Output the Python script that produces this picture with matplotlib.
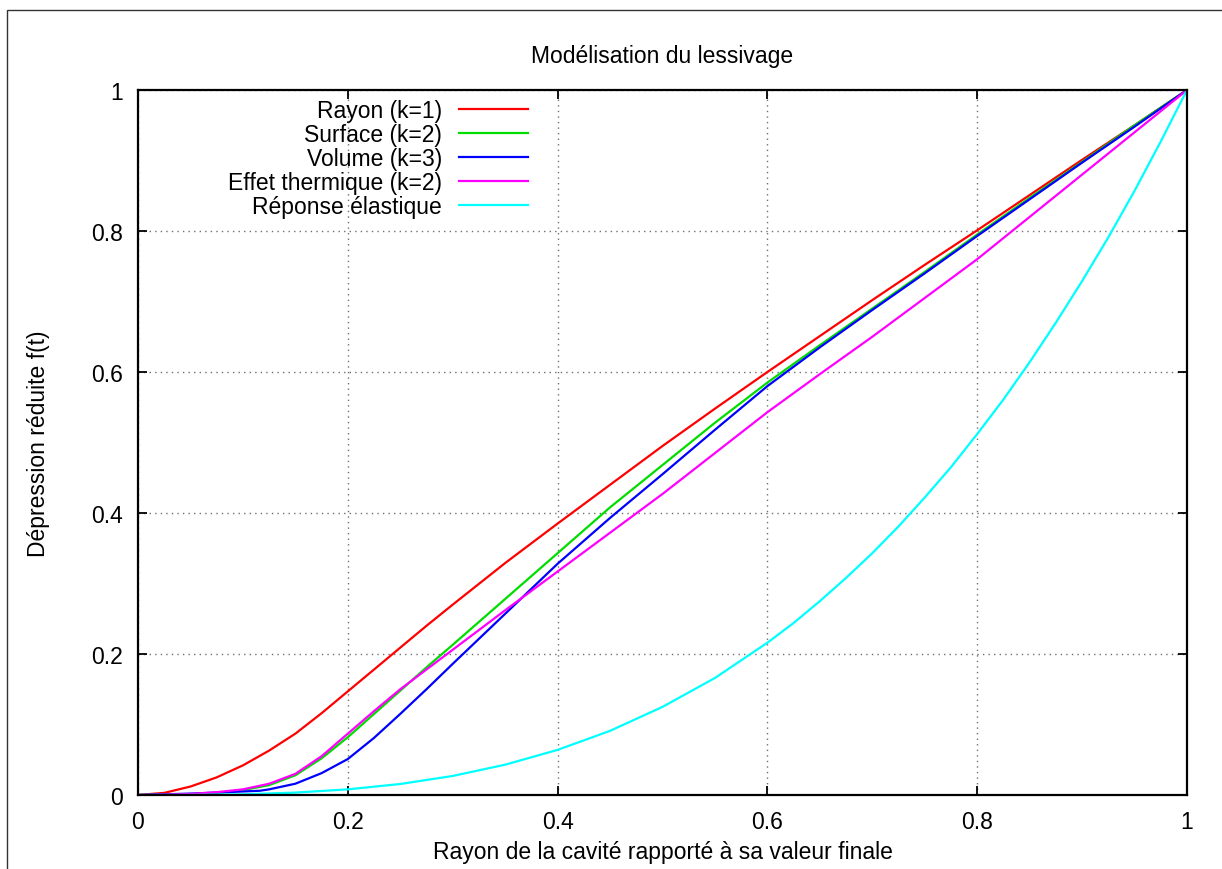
import matplotlib
matplotlib.use("Agg")
import matplotlib.pyplot as plt
from matplotlib.patches import Rectangle

plt.rcParams['font.family'] = ['Liberation Sans', 'DejaVu Sans']

# rayon réduit (axe x), pas fin au début des courbes
r_fin = [0.0, 0.025, 0.05, 0.075, 0.1, 0.125, 0.15, 0.175, 0.2, 0.225, 0.25, 0.275, 0.3,
         0.35, 0.4, 0.45, 0.5, 0.55, 0.6, 0.65, 0.7, 0.75, 0.8, 0.85, 0.9, 0.95, 1.0]

rayon = [0.0, 0.003, 0.012, 0.025, 0.042, 0.063, 0.087, 0.116, 0.147, 0.178, 0.209, 0.24, 0.27,
         0.329, 0.385, 0.44, 0.495, 0.548, 0.6, 0.651, 0.702, 0.752, 0.801, 0.851, 0.901, 0.95, 1.0]
surface = [0.0, 0.0005, 0.001, 0.003, 0.007, 0.014, 0.028, 0.052, 0.082, 0.115, 0.148, 0.181, 0.213,
           0.278, 0.343, 0.408, 0.468, 0.528, 0.585, 0.638, 0.69, 0.742, 0.795, 0.847, 0.898, 0.95, 1.0]
thermique = [0.0, 0.0005, 0.0015, 0.004, 0.008, 0.016, 0.03, 0.055, 0.087, 0.119, 0.15, 0.178, 0.206,
             0.262, 0.317, 0.372, 0.427, 0.485, 0.543, 0.597, 0.65, 0.705, 0.76, 0.82, 0.88, 0.94, 1.0]

# la courbe volume a un coude vers r = 0.116
r_vol = [0.0, 0.025, 0.05, 0.075, 0.1, 0.116, 0.125, 0.15, 0.175, 0.2, 0.225, 0.25, 0.275, 0.3,
         0.35, 0.4, 0.45, 0.5, 0.55, 0.6, 0.65, 0.7, 0.75, 0.8, 0.85, 0.9, 0.95, 1.0]
volume = [0.0, 0.001, 0.002, 0.0035, 0.005, 0.006, 0.008, 0.016, 0.031, 0.051, 0.081, 0.115, 0.15, 0.186,
          0.257, 0.328, 0.393, 0.455, 0.518, 0.58, 0.635, 0.688, 0.74, 0.793, 0.845, 0.897, 0.948, 1.0]

# réponse élastique, pas fin à la fin
r_ela = [0.0, 0.05, 0.1, 0.15, 0.2, 0.25, 0.3, 0.35, 0.4, 0.45, 0.5, 0.55, 0.6,
         0.625, 0.65, 0.675, 0.7, 0.725, 0.75, 0.775, 0.8, 0.825, 0.85, 0.875, 0.9, 0.925, 0.95,
         0.975, 1.0]
elastique = [0.0, 0.0001, 0.001, 0.0034, 0.008, 0.0156, 0.027, 0.043, 0.064, 0.091, 0.125, 0.166, 0.216,
             0.244, 0.275, 0.308, 0.343, 0.381, 0.422, 0.465, 0.512, 0.561, 0.614, 0.67, 0.729, 0.791, 0.857,
             0.927, 1.0]

labels = ["Rayon (k=1)", "Surface (k=2)", "Volume (k=3)",
          "Effet thermique (k=2)", "Réponse élastique"]
colors = ["#ff0000", "#00dd00", "#0000ff", "#ff00ff", "#00ffff"]

W, H = 1222, 870
fig = plt.figure(figsize=(W / 100, H / 100), dpi=100)
ax = fig.add_axes([138 / W, 1 - 796 / H, (1187 - 138) / W, (796 - 91) / H])

series = [(r_fin, rayon), (r_fin, surface), (r_vol, volume), (r_fin, thermique), (r_ela, elastique)]
for (x, y), lab, c in zip(series, labels, colors):
    ax.plot(x, y, color=c, lw=1.6, label=lab)

ax.set_xlim(0, 1)
ax.set_ylim(0, 1)
ticks = [0, 0.2, 0.4, 0.6, 0.8, 1]
tick_labels = ["0", "0.2", "0.4", "0.6", "0.8", "1"]
ax.set_xticks(ticks, tick_labels)
ax.set_yticks(ticks, tick_labels)
ax.tick_params(direction='in', length=6.5, width=1.3, labelsize=16.5,
               top=True, right=True, pad=11)
ax.grid(True, color='#707070', lw=1.0, ls=(0, (1, 3)))
for s in ax.spines.values():
    s.set_linewidth(1.6)

ax.set_title("Modélisation du lessivage", fontsize=16.5, pad=20)
ax.set_xlabel("Rayon de la cavité rapporté à sa valeur finale", fontsize=16.5)
ax.set_ylabel("Dépression réduite f(t)", fontsize=16.5)
ax.xaxis.set_label_coords(0.5, -0.064)
ax.yaxis.set_label_coords(-0.084, 0.5)

ax.legend(loc='upper right', bbox_to_anchor=(528 / W, 1 - 100 / H),
          bbox_transform=fig.transFigure, frameon=False, markerfirst=False,
          fontsize=16.5, handlelength=3.0, handletextpad=0.75,
          labelspacing=0.04, borderpad=0, borderaxespad=0)

# cadre extérieur
fig.patches.append(Rectangle((7 / W, -0.2), 2, 1.2 - 11 / H, transform=fig.transFigure,
                             fill=False, lw=1.0, edgecolor='#333333'))

fig.savefig("out.png", dpi=100)
